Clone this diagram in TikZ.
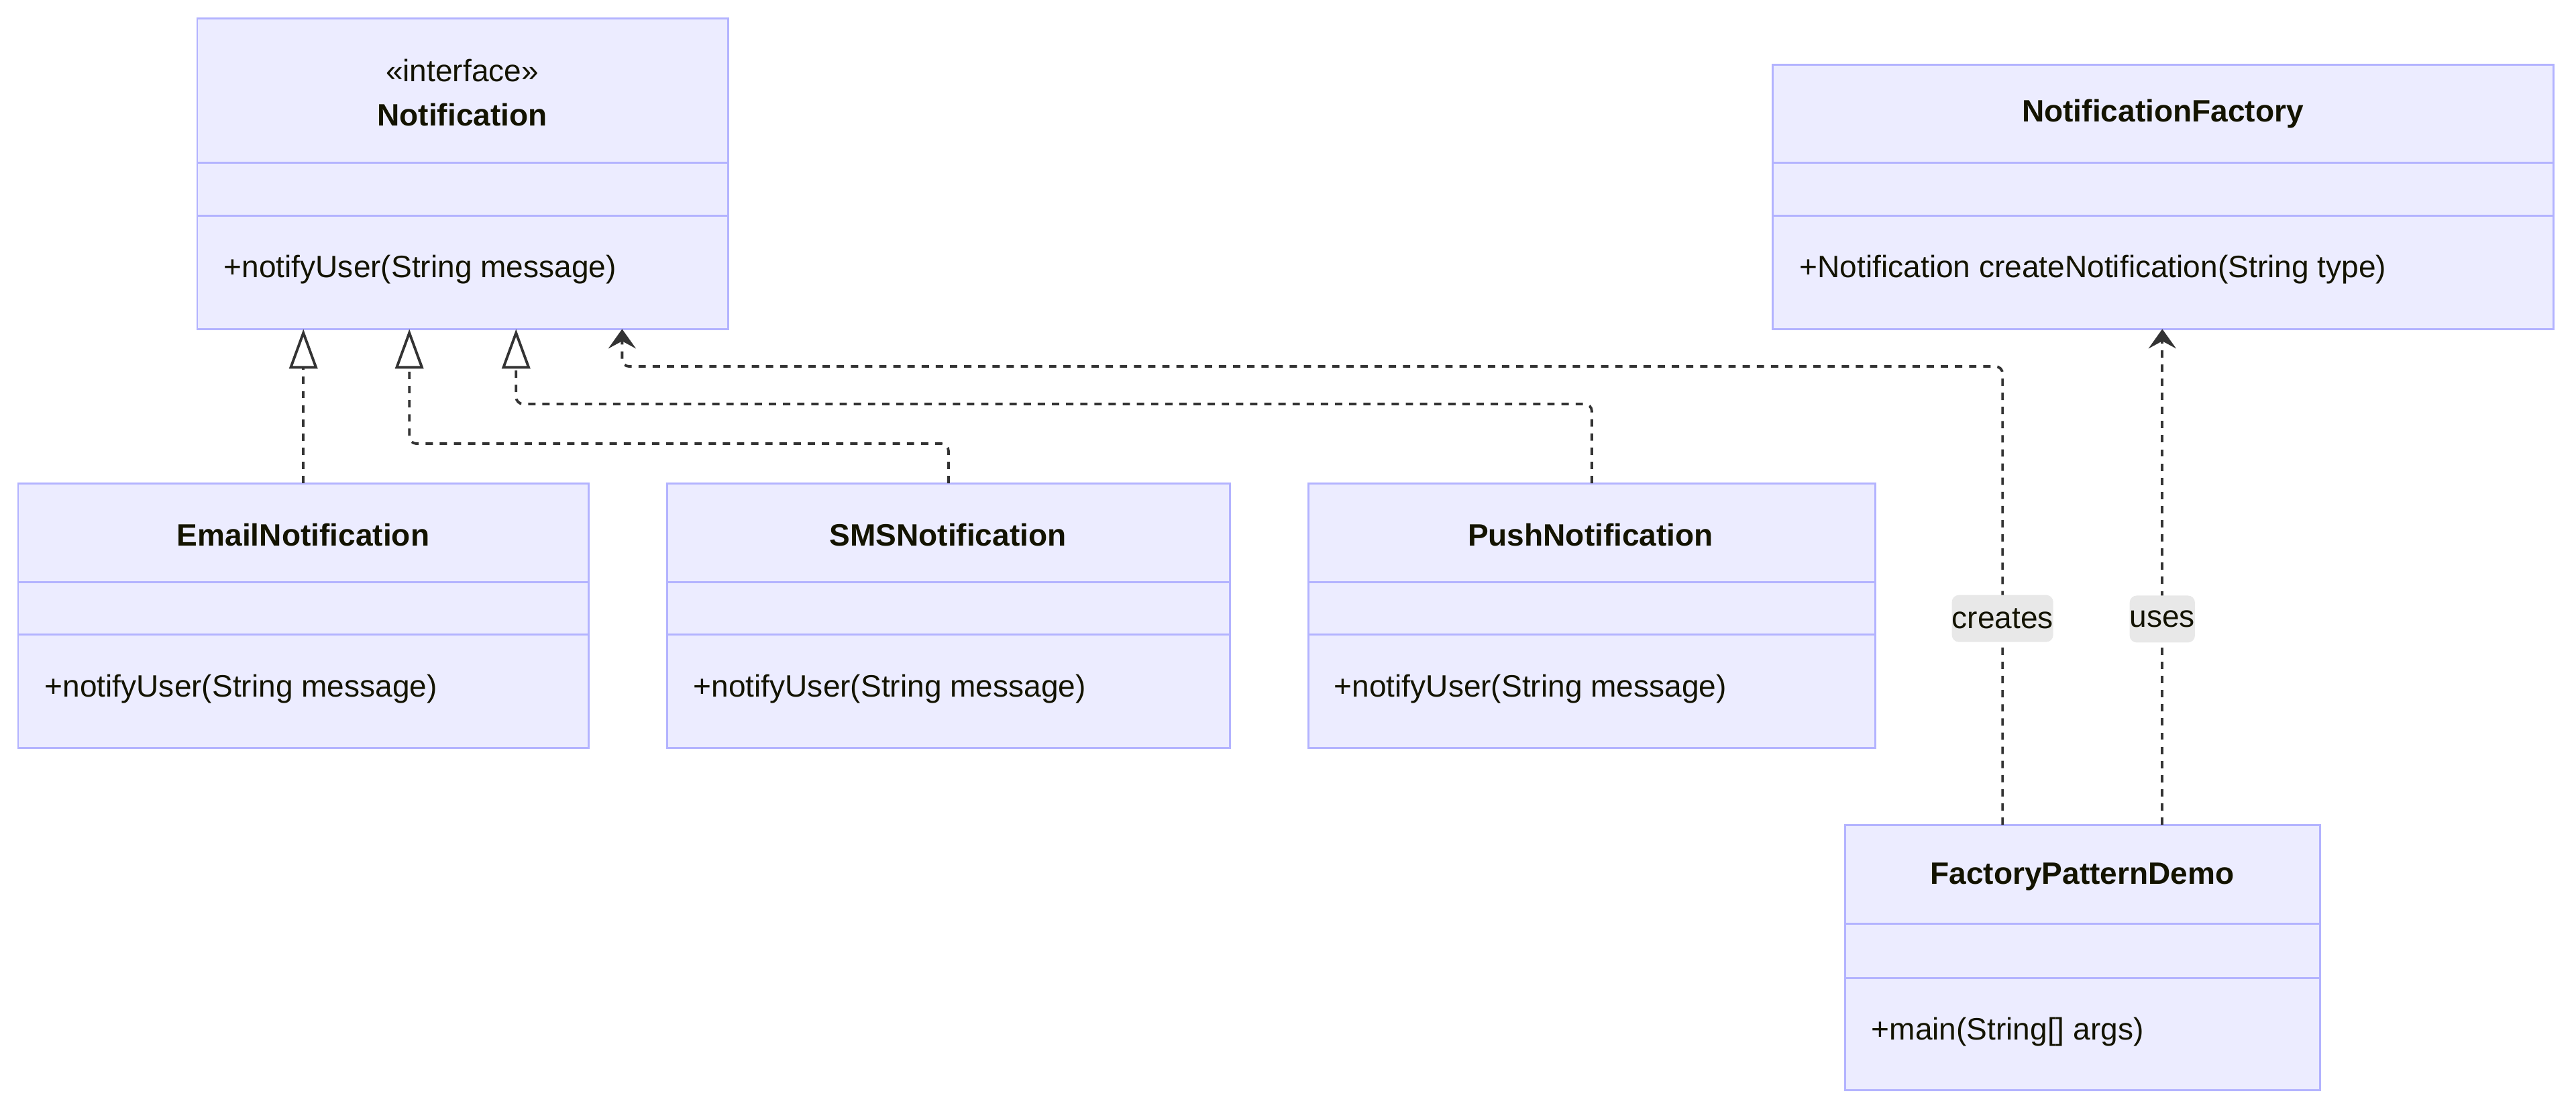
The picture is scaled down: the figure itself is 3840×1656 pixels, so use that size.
\documentclass[tikz,border=0pt]{standalone}
\usepackage{fontspec}
\setmainfont{Liberation Sans}
\usepackage{tikz,xcolor}
\usetikzlibrary{arrows.meta,positioning}
\definecolor{clsfill}{HTML}{ECECFF}
\definecolor{clsline}{HTML}{B3B3FF}
\definecolor{txt}{HTML}{131300}
\definecolor{arr}{HTML}{333333}
\definecolor{lblbg}{HTML}{E8E8E8}

\begin{document}
\begin{tikzpicture}[x=0.01cm,y=-0.01cm,
  cls/.style={draw=clsline,fill=clsfill,line width=0.85pt,anchor=north west,inner sep=0pt,outer sep=0pt,minimum height=3.94cm},
  sep/.style={draw=clsline,line width=0.85pt},
  cname/.style={font=\fontsize{13.1}{15.7}\selectfont\bfseries,text=txt,inner sep=0pt},
  cop/.style={font=\fontsize{13.1}{15.7}\selectfont,text=txt,inner sep=0pt,anchor=west},
  lbl/.style={font=\fontsize{13.1}{15.7}\selectfont,text=txt,fill=lblbg,inner xsep=0pt,inner ysep=0pt,minimum height=0.7cm},
  real/.style={draw=arr,line width=1.1pt,dash pattern=on 3.1pt off 2.9pt,rounded corners=3pt,-{Triangle[open,length=0.59cm,width=0.42cm,fill=white]}},
  dep/.style={draw=arr,line width=1.1pt,dash pattern=on 3.1pt off 2.9pt,rounded corners=3pt,-{Stealth[length=0.29cm,width=0.41cm,inset=0.11cm]}}]
\useasboundingbox (0,0) rectangle (3840,1656);
% class boxes
\node[cls,minimum width=7.91cm,minimum height=4.63cm] (notif) at (294,27) {};
\node[cls,minimum width=11.64cm] (factory) at (2642,96) {};
\node[cls,minimum width=8.50cm] (email) at (27,720) {};
\node[cls,minimum width=8.38cm,right=1.17cm of email.north east,anchor=north west] (sms) {};
\node[cls,minimum width=8.45cm,right=1.17cm of sms.north east,anchor=north west] (push) {};
\node[cls,minimum width=7.08cm,minimum height=3.95cm] (demo) at (2750,1229) {};
\foreach \c/\a/\b in {notif/215/294,factory/146/225,email/147/225,sms/147/225,push/147/225,demo/147/228}{
  \draw[sep] ([yshift=-\a*0.01cm]\c.north west) -- ([yshift=-\a*0.01cm]\c.north east);
  \draw[sep] ([yshift=-\b*0.01cm]\c.north west) -- ([yshift=-\b*0.01cm]\c.north east);
}
% texts
\node[font=\fontsize{13.1}{15.7}\selectfont,text=txt,inner sep=0pt] (notifst) at (689,105) {«interface»};
\node[cname] (notifname) at (689,171) {Notification};
\node[cop] (notifop) at (333,402) {+notifyUser(String message)};
\node[cname] (factoryname) at (3224,170) {NotificationFactory};
\node[cop] (factoryop) at (2682,402) {+Notification createNotification(String type)};
\node[cname] (emailname) at (452,797) {EmailNotification};
\node[cop] (emailop) at (66,1027) {+notifyUser(String message)};
\node[cname] (smsname) at (1413,797) {SMSNotification};
\node[cop] (smsop) at (1033,1027) {+notifyUser(String message)};
\node[cname] (pushname) at (2371,797) {PushNotification};
\node[cop] (pushop) at (1988,1027) {+notifyUser(String message)};
\node[cname] (demoname) at (3104,1306) {FactoryPatternDemo};
\node[cop] (demoop) at (2789,1538) {+main(String[] args)};
% connectors
\coordinate (sms-in) at ([xshift=-0.795cm]notif.south);
\coordinate (push-in) at ([xshift=0.795cm]notif.south);
\coordinate (creates-in) at ([xshift=2.375cm]notif.south);
\draw[real] (email.north) -- (email.north |- notif.south);
\draw[real] (sms.north) -- ++(0,-59) -| (sms-in);
\draw[real] (push.north) -- ++(0,-118) -| (push-in);
\draw[dep] ([xshift=-1.19cm]demo.north) -- node[lbl,pos=0.45] (createslbl) {creates} ++(0,-683) -| (creates-in);
\draw[dep] ([xshift=1.19cm]demo.north) -- node[lbl,pos=0.415] (useslbl) {uses} ([xshift=1.19cm]demo.north |- factory.south);
\end{tikzpicture}
\end{document}
